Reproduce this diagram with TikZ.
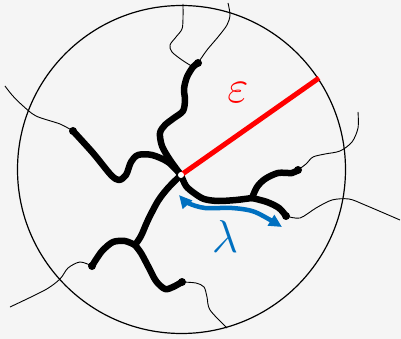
\RequirePackage{fix-cm}
\documentclass[tikz,border=0pt]{standalone}
\usetikzlibrary{arrows.meta}
\definecolor{bg}{RGB}{245,245,245}
\definecolor{lblue}{RGB}{0,112,192}
\begin{document}
\begin{tikzpicture}[x=1pt,y=-1pt,
  br/.style={line width=6.5pt,line cap=round,line join=round},
  tw/.style={line width=0.9pt},
  lbl/.style={font=\fontsize{46}{46}\selectfont,inner sep=0pt}]
  \fill[bg] (0,0) rectangle (401,339);
  \useasboundingbox (0,0) rectangle (401,339);
  \coordinate (c) at (181.5,169.5); \coordinate (o) at (181,175);
  \coordinate (eU) at (198,63); \coordinate (eL) at (73,131); \coordinate (eDL) at (92,266);
  \coordinate (eD) at (182,282); \coordinate (eR1) at (298,170); \coordinate (eR2) at (286,216);
  \coordinate (fD) at (135,245); \coordinate (fR) at (252,198); \coordinate (fU) at (193,67);
  % thin strands leaving the ends
  \draw[tw] plot[smooth] coordinates {(eU) (207,50) (218,37) (227,25) (230,15) (228,3)};
  \draw[tw] plot[smooth] coordinates {(fU) (182,60) (172,52) (170,45) (176,37) (182,29) (183,18) (183,4)};
  \draw[tw] plot[smooth] coordinates {(eL) (60,124) (36,116) (22,105) (12,95) (5,86)};
  \draw[tw] plot[smooth] coordinates {(eDL) (80,262) (68,268) (60,279) (45,290) (10,307)};
  \draw[tw] plot[smooth] coordinates {(eD) (196,283) (204,287) (207,297) (210,310) (227,328)};
  \draw[tw] plot[smooth] coordinates {(eR1) (306,164) (313,157) (325,154) (340,151) (352,142) (358,128) (358,112)};
  \draw[tw] plot[smooth] coordinates {(eR2) (300,218) (316,208) (332,200) (349,199) (365,205) (400,220)};
  \draw[line width=1.2pt] (c) circle[radius=164];
  % thick branches
  \draw[br] plot[smooth] coordinates {(o) (170,160) (162,146) (160,133) (165,125) (174,118) (183,111) (185,100) (184,89) (187,77) (fU) (eU)};
  \draw[br] plot[smooth] coordinates {(o) (168,162) (152,155) (138,155) (131,162) (126,175) (119,180) (111,175) (93,153) (eL)};
  \draw[br] plot[smooth] coordinates {(o) (168,188) (158,201) (148,220) (141,236) (fD)};
  \draw[br] plot[smooth] coordinates {(fD) (125,241) (113,242) (103,250) (97,258) (eDL)};
  \draw[br] plot[smooth] coordinates {(fD) (141,253) (148,266) (156,281) (165,289) (173,287) (eD)};
  \draw[br] plot[smooth] coordinates {(o) (186,186) (194,193) (204,199) (218,201) (236,200) (fR)};
  \draw[br] plot[smooth] coordinates {(fR) (257,187) (265,179) (278,173) (292,173) (eR1)};
  \draw[br] plot[smooth] coordinates {(fR) (267,202) (279,208) (eR2)};
  \foreach \e in {eU,eL,eDL,eD,eR1,eR2} \fill (\e) circle[radius=4];
  \draw[red,line width=5pt] (o) -- (319,78);
  \fill[white] (o) circle[radius=3];
  \draw[lblue,line width=4.5pt,{Triangle[length=13pt,width=12pt]}-{Triangle[length=13pt,width=12pt]}]
    plot[smooth] coordinates {(179,195) (188,203) (205,208) (232,208) (255,212) (282,227)};
  \node[lbl,text=red] (eps) at (238,93) {$\varepsilon$};
  \node[lbl,text=lblue] (lam) at (225,237) {$\lambda$};
\end{tikzpicture}
\end{document}
